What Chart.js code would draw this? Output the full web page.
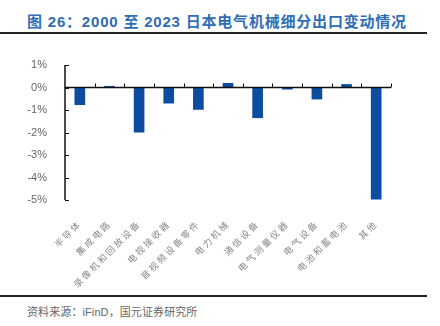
<!DOCTYPE html>
<html>
<head>
<meta charset="utf-8">
<script src="https://cdn.jsdelivr.net/npm/chart.js@4"></script>
<style>
  html, body { margin: 0; padding: 0; background: #fff; }
  body { width: 440px; height: 326px; position: relative; overflow: hidden; }
  #title {
    position: absolute; left: 27px; top: 10px; white-space: nowrap;
    font: bold 15px "Liberation Sans", "Noto Sans CJK SC", sans-serif;
    color: #2f6db5; letter-spacing: 0.8px;
  }
  .rule { position: absolute; left: 0; width: 427px; height: 2px; background: #222; }
  #source {
    position: absolute; left: 27px; top: 303px; white-space: nowrap;
    font: 11px "Liberation Sans", "Noto Sans CJK SC", sans-serif;
    color: #666; letter-spacing: 0.1px;
  }
  #wrap { position: absolute; left: 0; top: 40px; width: 440px; height: 255px; }
</style>
</head>
<body>
<div id="title">图 26：2000 至 2023 日本电气机械细分出口变动情况</div>
<div class="rule" style="top:32px"></div>
<div id="wrap"><canvas id="c"></canvas></div>
<div class="rule" style="top:295px"></div>
<div id="source">资料来源：iFinD，国元证券研究所</div>
<script>
// Export change by sub-category, percentage points
const categories = ['半导体', '集成电路', '录像机和回放设备', '电视接收器', '音视频设备零件', '电力机械',
  '通信设备', '电气测量仪器', '电气设备', '电池和蓄电池', '其他'];
const changes = [-0.78, 0.07, -2.0, -0.71, -0.99, 0.2, -1.36, -0.09, -0.53, 0.15, -4.98];
const yTicks = [1, 0, -1, -2, -3, -4, -5];

// Category labels are drawn after the bars (ticks z: 1) with wider letter spacing;
// everything before that uses normal spacing.
const labelSpacing = {
  id: 'labelSpacing',
  beforeDraw(chart) { chart.ctx.letterSpacing = '0px'; },
  afterDatasetsDraw(chart) { chart.ctx.letterSpacing = '2.3px'; },
  afterDraw(chart) { chart.ctx.letterSpacing = '0px'; }
};

// Zero line with upward category ticks, and inward ticks on the y axis
const axisMarks = {
  id: 'axisMarks',
  afterDatasetsDraw(chart) {
    const { ctx, chartArea, scales: { x, y } } = chart;
    const y0 = y.getPixelForValue(0);
    const step = x.getPixelForValue(1) - x.getPixelForValue(0);
    ctx.save();
    ctx.strokeStyle = '#111';
    ctx.lineWidth = 1.5;
    ctx.beginPath();
    ctx.moveTo(chartArea.left, y0);
    ctx.lineTo(chartArea.right, y0);
    ctx.stroke();
    ctx.lineWidth = 1;
    for (let i = 0; i < categories.length; i++) {
      const px = Math.round(x.getPixelForValue(i) + step / 2) + 0.5;
      ctx.beginPath();
      ctx.moveTo(px, y0);
      ctx.lineTo(px, y0 - 4);
      ctx.stroke();
    }
    ctx.lineWidth = 1.5;
    ctx.beginPath();
    ctx.moveTo(chartArea.left, y.getPixelForValue(yTicks[0]));
    ctx.lineTo(chartArea.left, y.getPixelForValue(yTicks[yTicks.length - 1]));
    ctx.stroke();
    ctx.lineWidth = 1;
    yTicks.forEach(v => {
      const py = Math.round(y.getPixelForValue(v)) + 0.5;
      ctx.beginPath();
      ctx.moveTo(chartArea.left, py);
      ctx.lineTo(chartArea.left + 4, py);
      ctx.stroke();
    });
    ctx.restore();
  }
};

new Chart(document.getElementById('c'), {
  type: 'bar',
  data: {
    labels: categories,
    datasets: [{
      data: changes,
      backgroundColor: '#0c4da2',
      barPercentage: 0.36,
      categoryPercentage: 1.0
    }]
  },
  options: {
    responsive: true,
    maintainAspectRatio: false,
    animation: false,
    layout: { padding: { top: 25, right: 49, bottom: 0, left: 0 } },
    plugins: { legend: { display: false }, tooltip: { enabled: false } },
    scales: {
      x: {
        grid: { display: false },
        border: { display: false },
        afterFit(scale) { scale.height = 95; },
        ticks: {
          z: 1,
          minRotation: 45, maxRotation: 45, autoSkip: false, padding: 10,
          color: '#888',
          font: { family: '"Noto Sans CJK SC", sans-serif', size: 9 }
        }
      },
      y: {
        min: -5, max: 1,
        afterFit(scale) { scale.width = 65; },
        afterBuildTicks(scale) { scale.ticks = yTicks.map(v => ({ value: v })); },
        grid: { display: false },
        border: { display: false },
        ticks: {
          padding: 10, color: '#666',
          font: { family: '"Liberation Sans", Arial, sans-serif', size: 11 },
          callback: v => v + '%'
        }
      }
    }
  },
  plugins: [labelSpacing, axisMarks]
});
</script>
</body>
</html>
